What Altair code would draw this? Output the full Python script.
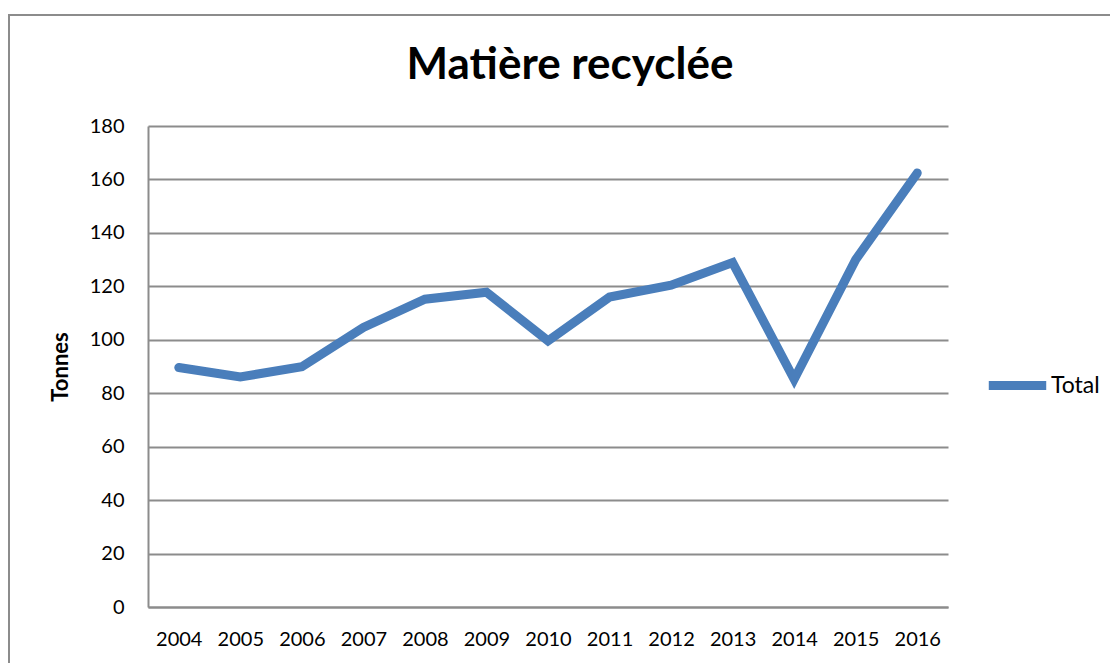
import altair as alt
import pandas as pd

years = ["2004", "2005", "2006", "2007", "2008", "2009", "2010",
         "2011", "2012", "2013", "2014", "2015", "2016"]
totals = [89.6, 86.1, 89.9, 104.6, 115.2, 117.8, 99.6,
          116.0, 120.4, 128.9, 85.2, 130.0, 162.4]
series = ["Total"] * len(years)

df = pd.DataFrame({"Année": years, "Tonnes": totals, "Série": series})

FONT = "Lato"
BLUE = "#4A7EBB"
GRID = "#8C8C8C"

W, H = 800, 481

line = alt.Chart(df).mark_line(strokeWidth=9, strokeCap="round", strokeJoin="miter").encode(
    x=alt.X("Année:N", sort=years, title=None,
            scale=alt.Scale(paddingInner=0, paddingOuter=0.5, align=0.5),
            axis=alt.Axis(labelAngle=0, ticks=False, grid=False, domain=True,
                          domainColor=GRID, domainWidth=2, labelPadding=22,
                          labelFontSize=20, labelFont=FONT, labelColor="#000000")),
    y=alt.Y("Tonnes:Q", title="Tonnes",
            scale=alt.Scale(domain=[0, 180], nice=False),
            axis=alt.Axis(values=list(range(0, 181, 20)), ticks=False,
                          grid=True, gridColor=GRID, gridWidth=2,
                          domain=True, domainColor=GRID, domainWidth=2,
                          labelPadding=24, labelFontSize=20, labelFont=FONT,
                          labelColor="#000000", titleFont=FONT, titleFontSize=22,
                          titleFontWeight="bold", titleColor="#000000", titlePadding=17)),
    color=alt.Color("Série:N", scale=alt.Scale(range=[BLUE]),
                    legend=alt.Legend(title=None, orient="none", legendX=836, legendY=226,
                                      symbolType="stroke", symbolSize=3300,
                                      symbolStrokeWidth=9, labelFont=FONT,
                                      labelFontSize=23, labelColor="#000000",
                                      labelOffset=0)),
)

title_df = pd.DataFrame({"t": ["Matière recyclée"]})
title = alt.Chart(title_df).mark_text(font=FONT, fontSize=44, fontWeight="bold",
                                      color="#000000", align="center", baseline="middle").encode(
    text="t:N", x=alt.value(422), y=alt.value(-60))

frame = alt.Chart(title_df).mark_rect(fill=None, stroke="#8C8C8C", strokeWidth=2).encode(
    x=alt.value(-139), x2=alt.value(1000), y=alt.value(-111), y2=alt.value(600))

chart = alt.layer(frame, line, title).properties(
    width=W, height=H,
    autosize=alt.AutoSizeParams(type="none"),
    padding={"left": 140, "top": 118, "right": 162, "bottom": 56},
).configure_view(stroke=None)

chart.save("out.html", embed_options={"renderer": "svg", "actions": False})
